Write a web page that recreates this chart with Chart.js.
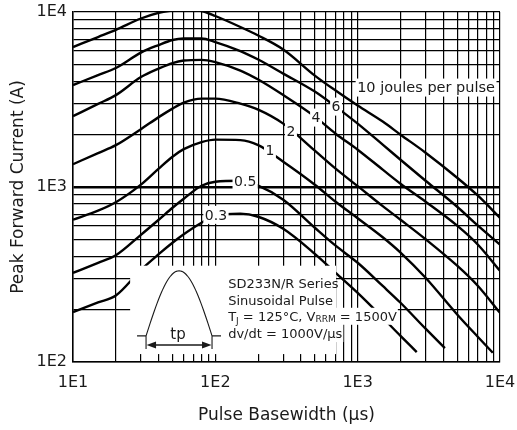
<!DOCTYPE html>
<html>
<head>
<meta charset="utf-8">
<script src="https://cdn.jsdelivr.net/npm/chart.js@4.4.0/dist/chart.umd.min.js"></script>
<style>
  html, body { margin: 0; padding: 0; background: #fff; }
  canvas { display: block; }
</style>
</head>
<body>
<canvas id="chart" width="517" height="430"></canvas>
<script>
// pulse basewidth (us) and peak forward current (A)
const tpAll = [10, 15, 20, 30, 40, 50, 60, 80, 100, 150, 200, 300, 500, 700, 1000, 1500, 2000, 3000, 5000, 7000, 10000]
const amps10 = [6305, 7194, 7900, 9180, 9895, 10200, 10335, 10132, 9487, 8209, 7338, 6101, 4332, 3555, 2918, 2364, 1991, 1571, 1130, 892, 667]
const amps6 = [3823, 4360, 4788, 5863, 6475, 6916, 7054, 7054, 6736, 5980, 5349, 4447, 3509, 2880, 2302, 1746, 1432, 1086, 771, 601, 468]
const amps4 = [2541, 2984, 3350, 4247, 4750, 5108, 5280, 5329, 5176, 4626, 4110, 3350, 2525, 2017, 1634, 1256, 1044, 824, 601, 468, 332]
const amps2 = [1350, 1563, 1734, 2141, 2508, 2805, 3035, 3199, 3199, 2996, 2768, 2302, 1613, 1273, 1011, 777, 650, 503, 355, 272, 191]

const tp1 = [10, 15, 20, 30, 40, 50, 60, 80, 100, 150, 200, 300, 500, 700, 1000, 1500, 2000, 3000, 5000, 7000, 8900]
const amps1 = [650, 732, 818, 1031, 1273, 1490, 1645, 1804, 1864, 1852, 1734, 1395, 1031, 824, 663, 516, 422, 303, 187, 139, 113]

const tp05 = [10, 15, 20, 30, 40, 50, 60, 80, 100, 150, 200, 300, 500, 700, 1000, 1500, 2000, 3000, 4100]
const amps05 = [323, 369, 407, 533, 650, 761, 857, 1017, 1072, 1086, 1017, 846, 585, 462, 369, 272, 218, 155, 120]

const tp03 = [10, 15, 20, 30, 40, 50, 60, 80, 100, 150, 200, 300, 500, 700, 1000, 1500, 2000, 2600]
const amps03 = [193, 219, 240, 336, 413, 480, 537, 625, 685, 704, 676, 577, 415, 323, 248, 179, 141, 114]

const curveNames = ["10 joules per pulse", "6", "4", "2", "1", "0.5", "0.3"]

const xMajors = [10, 100, 1000, 10000]
const xTickLabels = ["1E1", "1E2", "1E3", "1E4"]
const yMajors = [100, 1000, 10000]
const yTickLabels = ["1E2", "1E3", "1E4"]

const noteLines = ["SD233N/R Series", "Sinusoidal Pulse", "dv/dt = 1000V/\u00b5s"]

// log grid: 1..9 in every decade
const gridFor = (majors) => {
  const out = []
  majors.forEach((m, i) => {
    if (i === majors.length - 1) { out.push(m); return }
    for (let k = 1; k < 10; k++) out.push(m * k)
  })
  return out
}

const FONT = "'DejaVu Sans', sans-serif"
const INK = "#1a1a1a"

const series = [
  [tpAll, amps10], [tpAll, amps6], [tpAll, amps4], [tpAll, amps2],
  [tp1, amps1], [tp05, amps05], [tp03, amps03],
]

// where each curve's label sits, in axis units
const labelAt = [[3024, 3700], [705, 2880], [510, 2492], [340, 2072], [242, 1614], [162, 1072], [101, 693]]

const notesPlugin = {
  id: "notes",
  afterDatasetsDraw(chart) {
    const { ctx, scales } = chart
    const X = (v) => scales.x.getPixelForValue(v)
    const Y = (v) => scales.y.getPixelForValue(v)
    ctx.save()

    // curve labels on white patches
    curveNames.forEach((name, i) => {
      const big = i === 0
      ctx.font = (big ? "14.5px " : "14px ") + FONT
      const w = ctx.measureText(name).width
      const cx = X(labelAt[i][0])
      const cy = Y(labelAt[i][1])
      ctx.fillStyle = "#fff"
      ctx.fillRect(cx - w / 2 - 1.5, cy - 9, w + 3, 18)
      ctx.fillStyle = INK
      ctx.textAlign = "center"
      ctx.textBaseline = "middle"
      ctx.fillText(name, cx, cy + 1)
    })

    // white block for the pulse sketch and the test conditions
    const left = X(25.2), right = X(705), top = Y(355), bottom = Y(111)
    ctx.fillStyle = "#fff"
    ctx.fillRect(left, top, right - left, bottom - top)

    const textLeft = X(123)
    const baselines = [Y(265), Y(212), Y(172), Y(137)]
    ctx.textAlign = "left"
    ctx.textBaseline = "alphabetic"

    // row 3 with subscripts
    const main = "13px " + FONT
    const sub = "9px " + FONT
    const parts = [["T", main, 0], ["J", sub, 3], [" = 125\u00b0C, V", main, 0], ["RRM", sub, 1], [" = 1500V", main, 0]]
    let w3 = 0
    parts.forEach(([t, f]) => { ctx.font = f; w3 += ctx.measureText(t).width })
    ctx.font = main
    const w4 = ctx.measureText(noteLines[2]).width
    ctx.fillStyle = "#fff"
    ctx.fillRect(textLeft - 4, baselines[2] - 13, w3 + 5, 17)
    ctx.fillRect(textLeft - 4, baselines[3] - 14, w4 + 5, 18)

    ctx.fillStyle = INK
    ctx.font = main
    ctx.fillText(noteLines[0], textLeft, baselines[0])
    ctx.fillText(noteLines[1], textLeft, baselines[1])
    ctx.fillText(noteLines[2], textLeft, baselines[3])
    let px = textLeft
    parts.forEach(([t, f, dy]) => {
      ctx.font = f
      ctx.fillText(t, px, baselines[2] + dy)
      px += ctx.measureText(t).width
    })

    // half-sine pulse sketch with tp arrow
    const bx0 = X(32.6), bx1 = X(94.8), by = Y(141), peak = Y(332)
    ctx.strokeStyle = INK
    ctx.lineWidth = 1.1
    ctx.beginPath()
    ctx.moveTo(bx0 - 9, by)
    ctx.lineTo(bx0, by)
    for (let i = 0; i <= 48; i++) {
      const t = i / 48
      ctx.lineTo(bx0 + (bx1 - bx0) * t, by - (by - peak) * Math.sin(Math.PI * t))
    }
    ctx.lineTo(bx1 + 9, by)
    ctx.moveTo(bx0, by)
    ctx.lineTo(bx0, by + 13)
    ctx.moveTo(bx1, by)
    ctx.lineTo(bx1, by + 13)
    ctx.stroke()

    const ay = by + 9
    ctx.lineWidth = 1.5
    ctx.beginPath()
    ctx.moveTo(bx0 + 6, ay)
    ctx.lineTo(bx1 - 6, ay)
    ctx.stroke()
    ctx.fillStyle = INK
    ctx.beginPath()
    ctx.moveTo(bx0 + 0.5, ay)
    ctx.lineTo(bx0 + 10, ay - 3.5)
    ctx.lineTo(bx0 + 10, ay + 3.5)
    ctx.closePath()
    ctx.moveTo(bx1 - 0.5, ay)
    ctx.lineTo(bx1 - 10, ay - 3.5)
    ctx.lineTo(bx1 - 10, ay + 3.5)
    ctx.closePath()
    ctx.fill()

    ctx.font = "15px " + FONT
    ctx.textAlign = "center"
    ctx.fillText("tp", (bx0 + bx1) / 2 - 1, by + 3)

    ctx.restore()
  },
}

const gridColor = "#000"

new Chart(document.getElementById("chart"), {
  type: "line",
  data: {
    datasets: series.map(([xs, ys], i) => ({
      label: curveNames[i],
      data: xs.map((x, j) => ({ x, y: ys[j] })),
      borderColor: "#000",
      borderWidth: 2.4,
      pointRadius: 0,
      fill: false,
      cubicInterpolationMode: "monotone",
    })),
  },
  options: {
    responsive: false,
    animation: false,
    layout: { padding: { top: 12, right: 17, left: 0, bottom: 0 } },
    plugins: { legend: { display: false }, tooltip: { enabled: false } },
    scales: {
      x: {
        type: "logarithmic",
        min: 10,
        max: 10000,
        afterBuildTicks: (scale) => { scale.ticks = gridFor(xMajors).map((v) => ({ value: v })) },
        afterFit: (scale) => {
          scale.height = 68
          scale.paddingLeft = 0
          scale.paddingRight = 0
        },
        grid: { color: gridColor, lineWidth: 1.2, drawTicks: false },
        border: { color: "#000", width: 1.5 },
        ticks: {
          autoSkip: false,
          maxRotation: 0,
          padding: 11,
          color: INK,
          font: { family: FONT, size: 16 },
          callback: (v) => { const k = xMajors.indexOf(v); return k >= 0 ? xTickLabels[k] : "" },
        },
        title: {
          display: true,
          text: "Pulse Basewidth (\u00b5s)",
          color: INK,
          font: { family: FONT, size: 17 },
          padding: { top: 0, bottom: 4 },
        },
      },
      y: {
        type: "logarithmic",
        min: 100,
        max: 10000,
        afterBuildTicks: (scale) => { scale.ticks = gridFor(yMajors).map((v) => ({ value: v })) },
        afterFit: (scale) => {
          scale.width = 73
          scale.paddingTop = 0
          scale.paddingBottom = 0
        },
        grid: {
          color: gridColor,
          lineWidth: (c) => (c.tick && c.tick.value === 1000 ? 2.6 : 1.2),
          drawTicks: false,
        },
        border: { color: "#000", width: 1.5 },
        ticks: {
          autoSkip: false,
          padding: 6,
          color: INK,
          font: { family: FONT, size: 16 },
          callback: (v) => { const k = yMajors.indexOf(v); return k >= 0 ? yTickLabels[k] : "" },
        },
        title: {
          display: true,
          text: "Peak Forward Current (A)",
          color: INK,
          font: { family: FONT, size: 17 },
          padding: { top: 8, bottom: 0 },
        },
      },
    },
  },
  plugins: [notesPlugin],
})
</script>
</body>
</html>
